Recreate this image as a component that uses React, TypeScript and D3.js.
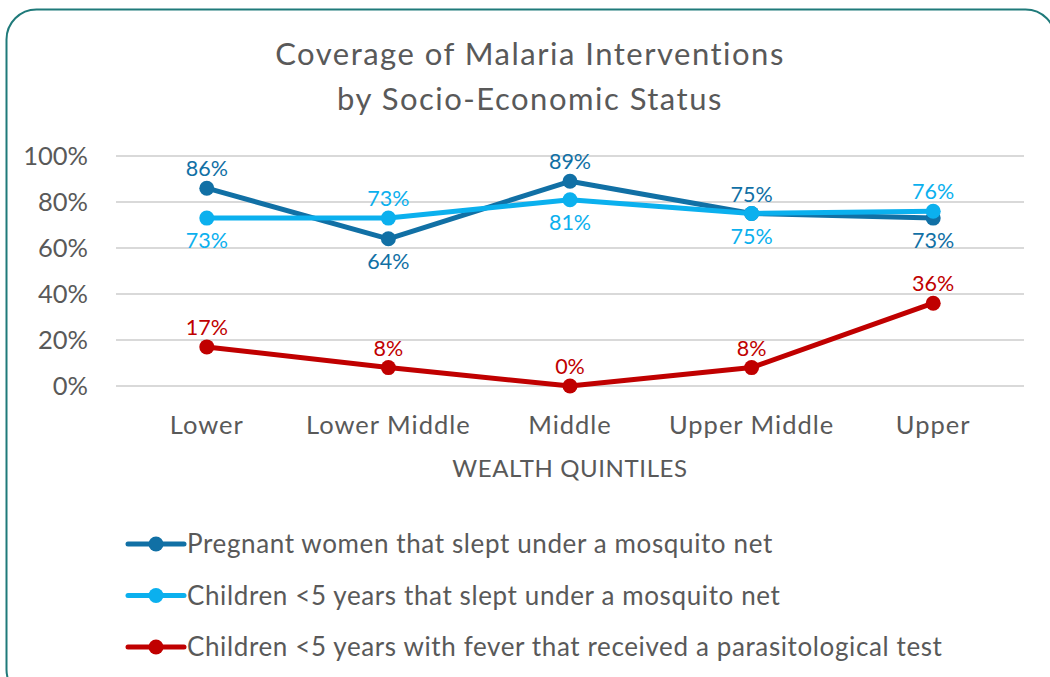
import React, { useEffect, useRef } from 'react';
import * as d3 from 'd3';

const categories = ['Lower', 'Lower Middle', 'Middle', 'Upper Middle', 'Upper'];
const pregnantNet = [0.86, 0.64, 0.89, 0.75, 0.73];
const childNet = [0.73, 0.73, 0.81, 0.75, 0.76];
const childTest = [0.17, 0.08, 0.0, 0.08, 0.36];
const yTicks = [0, 0.2, 0.4, 0.6, 0.8, 1.0];

const seriesNames = [
  'Pregnant women that slept under a mosquito net',
  'Children <5 years that slept under a mosquito net',
  'Children <5 years with fever that received a parasitological test',
];
const seriesColors = ['#1170A5', '#0BB0EE', '#C00000'];

const W = 1050;
const H = 677;
const FONT = 'Lato, Carlito, Calibri, sans-serif';
const TEXT = '#595959';

export default function App() {
  const svgRef = useRef<SVGSVGElement>(null);

  useEffect(() => {
    if (!svgRef.current) return;
    const svg = d3.select(svgRef.current);
    svg.selectAll('*').remove();

    const plot = { left: 116, right: 1024, top: 156, bottom: 386 };

    // frame
    svg.append('rect')
      .attr('x', 6.5).attr('y', 9.5)
      .attr('width', 1049).attr('height', 690)
      .attr('rx', 30)
      .attr('fill', '#fff')
      .attr('stroke', '#1F7A7A')
      .attr('stroke-width', 2);

    // title
    const title = svg.append('text')
      .attr('text-anchor', 'middle')
      .attr('font-family', FONT)
      .attr('font-size', 31)
      .attr('letter-spacing', 1.5)
      .attr('fill', TEXT);
    title.append('tspan').attr('x', 530).attr('y', 65).text('Coverage of Malaria Interventions');
    title.append('tspan').attr('x', 530).attr('y', 110).text('by Socio-Economic Status');

    const x = d3.scalePoint<string>()
      .domain(categories)
      .range([plot.left, plot.right])
      .padding(0.5);

    const y = d3.scaleLinear()
      .domain([0, 1])
      .range([plot.bottom, plot.top]);

    // grid
    svg.append('g')
      .selectAll('line')
      .data(yTicks)
      .enter()
      .append('line')
      .attr('x1', plot.left)
      .attr('x2', plot.right)
      .attr('y1', d => y(d))
      .attr('y2', d => y(d))
      .attr('stroke', '#D9D9D9')
      .attr('stroke-width', 2);

    // y tick labels
    svg.append('g')
      .selectAll('text')
      .data(yTicks)
      .enter()
      .append('text')
      .attr('x', 88)
      .attr('y', d => y(d))
      .attr('dy', '0.35em')
      .attr('text-anchor', 'end')
      .attr('font-family', FONT)
      .attr('font-size', 25.5)
      .attr('fill', TEXT)
      .text(d => d3.format('.0%')(d));

    // x category labels
    svg.append('g')
      .selectAll('text')
      .data(categories)
      .enter()
      .append('text')
      .attr('x', d => x(d) as number)
      .attr('y', 434)
      .attr('text-anchor', 'middle')
      .attr('font-family', FONT)
      .attr('font-size', 25.5)
      .attr('letter-spacing', 1)
      .attr('fill', TEXT)
      .text(d => d);

    svg.append('text')
      .attr('x', (plot.left + plot.right) / 2)
      .attr('y', 477)
      .attr('text-anchor', 'middle')
      .attr('font-family', FONT)
      .attr('font-size', 24)
      .attr('letter-spacing', 0.6)
      .attr('fill', TEXT)
      .text('WEALTH QUINTILES');

    const series = [pregnantNet, childNet, childTest];

    const line = d3.line<number>()
      .x((_, i) => x(categories[i]) as number)
      .y(d => y(d));

    // label placement: nets compare against each other, test always above
    const above = (s: number, i: number) => {
      if (s === 0) return pregnantNet[i] >= childNet[i];
      if (s === 1) return childNet[i] > pregnantNet[i];
      return true;
    };

    series.forEach((vals, s) => {
      const g = svg.append('g');
      g.append('path')
        .datum(vals)
        .attr('fill', 'none')
        .attr('stroke', seriesColors[s])
        .attr('stroke-width', 5)
        .attr('stroke-linejoin', 'round')
        .attr('d', line);

      g.selectAll('circle')
        .data(vals)
        .enter()
        .append('circle')
        .attr('cx', (_, i) => x(categories[i]) as number)
        .attr('cy', d => y(d))
        .attr('r', 7.5)
        .attr('fill', seriesColors[s]);
    });

    // data labels drawn last
    series.forEach((vals, s) => {
      svg.append('g')
        .selectAll('text')
        .data(vals)
        .enter()
        .append('text')
        .attr('x', (_, i) => x(categories[i]) as number)
        .attr('y', (d, i) => (above(s, i) ? y(d) - 12 : y(d) + 30))
        .attr('text-anchor', 'middle')
        .attr('font-family', FONT)
        .attr('font-size', 21.5)
        .attr('fill', seriesColors[s])
        .text(d => d3.format('.0%')(d));
    });

    // legend
    const legend = svg.append('g');
    seriesNames.forEach((name, s) => {
      const cy = 544 + s * 51.5;
      legend.append('line')
        .attr('x1', 128).attr('x2', 184)
        .attr('y1', cy).attr('y2', cy)
        .attr('stroke', seriesColors[s])
        .attr('stroke-width', 5)
        .attr('stroke-linecap', 'round');
      legend.append('circle')
        .attr('cx', 156).attr('cy', cy)
        .attr('r', 7.5)
        .attr('fill', seriesColors[s]);
      legend.append('text')
        .attr('x', 187)
        .attr('y', cy + 9)
        .attr('font-family', FONT)
        .attr('font-size', 26)
        .attr('letter-spacing', 0.62)
        .attr('fill', TEXT)
        .text(name);
    });
  }, []);

  return (
    <div style={{ position: 'absolute', left: 0, top: 0, width: W, height: H, overflow: 'hidden', background: '#fff' }}>
      <svg ref={svgRef} width={W} height={H} style={{ display: 'block' }} />
    </div>
  );
}
